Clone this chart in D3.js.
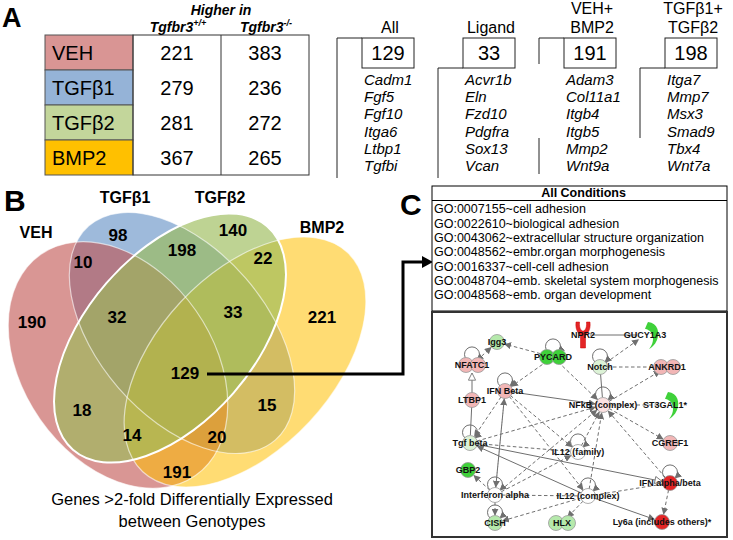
<!DOCTYPE html>
<html><head><meta charset="utf-8">
<script src="https://cdn.jsdelivr.net/npm/d3@7"></script>
<style>body{margin:0;background:#fff;} svg{font-family:Arial,"Liberation Sans",sans-serif;display:block;}</style>
</head><body><svg id="c" width="733" height="540"></svg>
<script>
// ---------------- DATA ----------------
const conditions = ["VEH", "TGFβ1", "TGFβ2", "BMP2"];
const higherWT = [221, 279, 281, 367];
const higherKO = [383, 236, 272, 265];

const geneGroups = [["All"], ["Ligand"], ["VEH+", "BMP2"], ["TGFβ1+", "TGFβ2"]];
const geneGroupCounts = [129, 33, 191, 198];
const genesAll = ["Cadm1", "Fgf5", "Fgf10", "Itga6", "Ltbp1", "Tgfbi"];
const genesLigand = ["Acvr1b", "Eln", "Fzd10", "Pdgfra", "Sox13", "Vcan"];
const genesVehBmp2 = ["Adam3", "Col11a1", "Itgb4", "Itgb5", "Mmp2", "Wnt9a"];
const genesTgfb = ["Itga7", "Mmp7", "Msx3", "Smad9", "Tbx4", "Wnt7a"];

const vennSets = ["VEH", "TGFβ1", "TGFβ2", "BMP2"];
const vennRegions = ["A", "B", "C", "D", "AB", "BC", "CD", "AC", "BD", "AD", "ABC", "BCD", "ACD", "ABD", "ABCD"];
const vennCounts = [190, 98, 140, 221, 10, 198, 22, 18, 15, 191, 32, 33, 14, 20, 129];
const vennCaption = ["Genes >2-fold Differentially Expressed", "between Genotypes"];

const goHeader = "All Conditions";
const goTerms = [
  "GO:0007155~cell adhesion",
  "GO:0022610~biological adhesion",
  "GO:0043062~extracellular structure organization",
  "GO:0048562~embr.organ morphogenesis",
  "GO:0016337~cell-cell adhesion",
  "GO:0048704~emb. skeletal system morphogenesis",
  "GO:0048568~emb. organ development"
];

const netNodes = ["Igg3", "NFATC1", "LTBP1", "Tgf beta", "GBP2", "Interferon alpha", "CISH", "HLX",
  "IL12 (complex)", "IL12 (family)", "IFN Beta", "PYCARD", "NPR2", "GUCY1A3", "Notch", "ANKRD1",
  "NFkB (complex)", "ST3GAL1*", "CGREF1", "IFN alpha/beta", "Ly6a (includes others)*"];
// expression: -2 strong down, -1 down, -0.5 slight down, 0 none, 0.5 slight up, 1 up, 2 strong up
const netExpression = [-1, 1, 1, -0.5, -2, 0, -1, -1, 0, 0, 1, -2, 2, -2, -0.5, 1, 0.5, -2, 1, 2, 2];
const netNodeShape = ["c", "d", "c", "c", "c", "c", "c", "d", "c", "c", "c", "d", "r", "m", "c", "d", "c", "m", "c", "c", "c"];
const netSelfLoops = ["NFATC1", "PYCARD", "Notch", "NFkB (complex)", "IFN Beta", "Tgf beta", "IL12 (family)",
  "IL12 (complex)", "Interferon alpha", "CISH", "IFN alpha/beta"];
// [source, target, line type, arrow]
const netEdges = [
  ["NFATC1", "Igg3", "dash", "arrow"],
  ["PYCARD", "Igg3", "dash", "arrow"],
  ["LTBP1", "NFATC1", "solid", "open"],
  ["LTBP1", "Tgf beta", "solid", "none"],
  ["PYCARD", "IFN Beta", "dash", "arrow"],
  ["PYCARD", "NFkB (complex)", "dash", "arrow"],
  ["Notch", "GUCY1A3", "dash", "arrow"],
  ["NPR2", "GUCY1A3", "solid", "none"],
  ["Notch", "ANKRD1", "dash", "none"],
  ["Notch", "NFkB (complex)", "solid", "none"],
  ["NFkB (complex)", "ANKRD1", "dash", "arrow"],
  ["ST3GAL1*", "NFkB (complex)", "dash", "none"],
  ["NFkB (complex)", "CGREF1", "dash", "arrow"],
  ["IFN Beta", "NFkB (complex)", "solid", "arrow"],
  ["IFN Beta", "Tgf beta", "dash", "arrow"],
  ["IFN Beta", "IL12 (family)", "dash", "arrow"],
  ["IFN Beta", "IL12 (complex)", "dash", "arrow"],
  ["IFN Beta", "Interferon alpha", "dash", "arrow"],
  ["Interferon alpha", "IFN Beta", "dash", "arrow"],
  ["Tgf beta", "NFkB (complex)", "dash", "arrow"],
  ["Tgf beta", "IL12 (family)", "dash", "none"],
  ["IL12 (complex)", "Tgf beta", "solid", "arrow"],
  ["IL12 (family)", "NFkB (complex)", "dash", "arrow"],
  ["IL12 (complex)", "NFkB (complex)", "dash", "arrow"],
  ["Interferon alpha", "NFkB (complex)", "dash", "arrow"],
  ["Interferon alpha", "IL12 (complex)", "dash", "none"],
  ["Interferon alpha", "IL12 (family)", "dash", "arrow"],
  ["Interferon alpha", "CISH", "dash", "arrow"],
  ["Interferon alpha", "GBP2", "dash", "arrow"],
  ["IL12 (complex)", "CISH", "dash", "arrow"],
  ["IL12 (complex)", "HLX", "dash", "arrow"],
  ["IL12 (complex)", "Ly6a (includes others)*", "solid", "arrow"],
  ["IFN alpha/beta", "NFkB (complex)", "dash", "arrow"],
  ["Tgf beta", "IFN alpha/beta", "solid", "open"],
  ["IFN alpha/beta", "Ly6a (includes others)*", "dash", "arrow"],
  ["IFN alpha/beta", "IL12 (complex)", "dash", "none"]
];

// ---------------- LAYOUT (design units) ----------------
const vennEllipses = [ // cx, cy, a, b, rotation (design units of the Venn panel)
  [118, 195, 135, 95, 55],
  [182, 163, 142, 84, 49],
  [170, 168, 148, 84, -49],
  [245, 192, 150, 88, -47]
];
const vennRegionPos = [[32,152],[118,65],[233,60],[322,147],[83,92],[182,80],[263,88],[82,240],[267,235],[177,302],[117,147],[233,142],[132,265],[217,267],[185,203]];
const vennSetLabelPos = [[36,62],[125,27],[220,27],[322,57]];
const netPos = [[65,30],[40,53],[40,88],[38,131],[36,158],[63,183],[63,211],[130,211],[156,184],[146,140],[73,79],[121,45],[151,23],[213,23],[168,55],[235,55],[171,93],[233,93],[238,131],[238,171],[230,210]];

// ---------------- DRAW ----------------
const svg = d3.select("#c");

// panel letters
svg.append("text").attr("x", 2).attr("y", 27).attr("font-size", 27).attr("font-weight", "bold").text("A");
svg.append("text").attr("x", 4).attr("y", 211).attr("font-size", 30).attr("font-weight", "bold").text("B");
svg.append("text").attr("x", 400).attr("y", 215).attr("font-size", 30).attr("font-weight", "bold").text("C");

// ---- Panel A table ----
const condColors = ["#d99594", "#95b3d7", "#c3d69b", "#ffc000"];
const rowY = d3.scaleBand().domain(conditions).range([35, 175]);
const colX = d3.scaleBand().domain(["label", "wt", "ko"]).range([45, 309]);
const tbl = svg.append("g");
conditions.forEach((c, i) => {
  tbl.append("rect").attr("x", colX("label")).attr("y", rowY(c)).attr("width", colX.bandwidth()).attr("height", rowY.bandwidth())
    .attr("fill", condColors[i]).attr("stroke", "#555").attr("stroke-width", 1);
  tbl.append("text").attr("x", colX("label") + 7).attr("y", rowY(c) + rowY.bandwidth() / 2 + 7)
    .attr("font-size", 20).text(c);
  [["wt", higherWT[i]], ["ko", higherKO[i]]].forEach(([k, v]) => {
    tbl.append("text").attr("x", colX(k) + colX.bandwidth() / 2).attr("y", rowY(c) + rowY.bandwidth() / 2 + 7)
      .attr("font-size", 20).attr("text-anchor", "middle").text(v);
  });
});
tbl.append("rect").attr("x", colX("wt")).attr("y", 35).attr("width", colX.bandwidth() * 2).attr("height", 140)
  .attr("fill", "none").attr("stroke", "#333");
tbl.append("line").attr("x1", colX("ko")).attr("x2", colX("ko")).attr("y1", 35).attr("y2", 175).attr("stroke", "#333");
tbl.append("text").attr("x", 221).attr("y", 15).attr("font-size", 14).attr("font-weight", "bold").attr("font-style", "italic")
  .attr("text-anchor", "middle").text("Higher in");
[["wt", "+/+"], ["ko", "-/-"]].forEach(([k, sup]) => {
  const t = tbl.append("text").attr("x", colX(k) + colX.bandwidth() / 2 + 1).attr("y", 32).attr("font-size", 14)
    .attr("font-weight", "bold").attr("font-style", "italic").attr("text-anchor", "middle");
  t.append("tspan").text("Tgfbr3");
  t.append("tspan").attr("font-size", 9).attr("dy", -6).text(sup);
});

// ---- Panel A gene lists ----
const groupX = d3.scaleBand().domain(d3.range(4)).range([337, 741]).paddingInner(0);
const geneLists = [genesAll, genesLigand, genesVehBmp2, genesTgfb];
const geneRowY = d3.scaleBand().domain(d3.range(6)).range([71, 175]);
const bracketStyle = [
  {h: "top", v: [[38, 178]]},
  {h: "bottom", v: [[68, 178]]},
  {h: "top", v: [[38, 64], [138, 174]]},
  {h: "bottom", v: [[68, 138]]}
];
const gl = svg.append("g");
geneGroupCounts.forEach((n, i) => {
  const x0 = groupX(i), bx = x0 + 25, bw = 52, by = 38, bh = 30;
  gl.append("rect").attr("x", bx).attr("y", by).attr("width", bw).attr("height", bh).attr("fill", "#fff").attr("stroke", "#222");
  gl.append("text").attr("x", bx + bw / 2).attr("y", by + bh / 2 + 7).attr("font-size", 20).attr("text-anchor", "middle").text(n);
  const hdr = geneGroups[i];
  hdr.forEach((h, j) => {
    gl.append("text").attr("x", bx + bw / 2 + 2).attr("y", 33 - (hdr.length - 1 - j) * 19).attr("font-size", 16)
      .attr("text-anchor", "middle").text(h);
  });
  const bs = bracketStyle[i];
  const hy = bs.h === "top" ? by : by + bh;
  gl.append("line").attr("x1", x0).attr("x2", bx).attr("y1", hy).attr("y2", hy).attr("stroke", "#222");
  bs.v.forEach(([y1, y2]) => gl.append("line").attr("x1", x0).attr("x2", x0).attr("y1", y1).attr("y2", y2).attr("stroke", "#222"));
  geneLists[i].forEach((g, j) => {
    gl.append("text").attr("x", bx + 2).attr("y", geneRowY(j) + geneRowY.bandwidth() / 2 + 5).attr("font-size", 15)
      .attr("font-style", "italic").text(g);
  });
});

// ---- Panel B Venn ----
const vx = d3.scaleLinear().domain([0, 374]).range([0, 374]);
const vy = d3.scaleLinear().domain([0, 374]).range([170, 544]);
const vennFill = ["#c0504d", "#4f81bd", "#9bbb59", "#ffc000"];
const vennOpacity = [0.6, 0.55, 0.65, 0.55];
const drawOrder = [1, 0, 3, 2];
const vg = svg.append("g");
drawOrder.forEach(i => {
  const [cx, cy, a, b, rot] = vennEllipses[i];
  vg.append("ellipse").attr("transform", `translate(${vx(cx)},${vy(cy)}) rotate(${rot})`)
    .attr("rx", vx(a) - vx(0)).attr("ry", vx(b) - vx(0))
    .attr("fill", vennFill[i]).attr("fill-opacity", vennOpacity[i]);
});
drawOrder.forEach(i => {
  const [cx, cy, a, b, rot] = vennEllipses[i];
  vg.append("ellipse").attr("transform", `translate(${vx(cx)},${vy(cy)}) rotate(${rot})`)
    .attr("rx", vx(a) - vx(0)).attr("ry", vx(b) - vx(0))
    .attr("fill", "none").attr("stroke", "#fff").attr("stroke-width", i === 2 ? 2 : 1.2).attr("stroke-opacity", i === 2 ? 1 : 0.6);
});
vennRegions.forEach((r, i) => {
  vg.append("text").attr("x", vx(vennRegionPos[i][0])).attr("y", vy(vennRegionPos[i][1]) + 6)
    .attr("font-size", 17).attr("font-weight", "bold").attr("text-anchor", "middle").text(vennCounts[i]);
});
vennSets.forEach((s, i) => {
  vg.append("text").attr("x", vx(vennSetLabelPos[i][0])).attr("y", vy(vennSetLabelPos[i][1]) + 6)
    .attr("font-size", 16).attr("font-weight", "bold").attr("text-anchor", "middle").text(s);
});
vennCaption.forEach((t, i) => {
  vg.append("text").attr("x", 192).attr("y", 505 + i * 22).attr("font-size", 16.5).attr("text-anchor", "middle").text(t);
});

// arrow from 129 to GO box
const allIdx = vennRegions.indexOf("ABCD");
const sx = vx(vennRegionPos[allIdx][0]) + 22, sy = vy(vennRegionPos[allIdx][1]) + 1;
const arrowPts = [[sx, sy], [403, sy], [403, 262], [424, 262]];
svg.append("path").attr("d", d3.line()(arrowPts)).attr("fill", "none").attr("stroke", "#000").attr("stroke-width", 3);
svg.append("path").attr("d", "M422,256 L433,262 L422,268 Z").attr("fill", "#000");

// ---- Panel C GO box ----
const goX0 = 432, goX1 = 727;
const goY = d3.scaleBand().domain(d3.range(goTerms.length)).range([201.5, 302]);
const gc = svg.append("g");
gc.append("rect").attr("x", goX0).attr("y", 186).attr("width", goX1 - goX0).attr("height", 125).attr("fill", "#fff").attr("stroke", "#000");
gc.append("line").attr("x1", goX0).attr("x2", goX1).attr("y1", 200.5).attr("y2", 200.5).attr("stroke", "#000");
gc.append("text").attr("x", (goX0 + goX1) / 2 + 4).attr("y", 197).attr("font-size", 12.5).attr("font-weight", "bold")
  .attr("text-anchor", "middle").text(goHeader);
goTerms.forEach((t, i) => {
  gc.append("text").attr("x", goX0 + 2).attr("y", goY(i) + goY.bandwidth() / 2 + 4.5).attr("font-size", 12.5).text(t);
});

// ---- Panel C network ----
const nx = d3.scaleLinear().domain([0, 295]).range([432, 727]);
const ny = d3.scaleLinear().domain([0, 225]).range([312, 537]);
const ng = svg.append("g");
ng.append("rect").attr("x", 432).attr("y", 312).attr("width", 295).attr("height", 225).attr("fill", "#fff")
  .attr("stroke", "#333").attr("stroke-width", 2);
const defs = svg.append("defs");
defs.append("marker").attr("id", "arr").attr("viewBox", "0 0 10 10").attr("refX", 9).attr("refY", 5)
  .attr("markerWidth", 7).attr("markerHeight", 7).attr("markerUnits", "userSpaceOnUse").attr("orient", "auto")
  .append("path").attr("d", "M0,0 L10,5 L0,10 Z").attr("fill", "#6f6f6f");
defs.append("marker").attr("id", "open").attr("viewBox", "0 0 10 10").attr("refX", 9).attr("refY", 5)
  .attr("markerWidth", 9).attr("markerHeight", 9).attr("markerUnits", "userSpaceOnUse").attr("orient", "auto")
  .append("path").attr("d", "M1,1 L9,5 L1,9 Z").attr("fill", "#fff").attr("stroke", "#777");

const pos = {};
netNodes.forEach((n, i) => pos[n] = [nx(netPos[i][0]), ny(netPos[i][1])]);
netEdges.forEach(([s, t, type, arrow]) => {
  const [x1, y1] = pos[s], [x2, y2] = pos[t];
  const dx = x2 - x1, dy = y2 - y1, L = Math.hypot(dx, dy);
  const r1 = 7, r2 = 8;
  const p = ng.append("line").attr("x1", x1 + dx / L * r1).attr("y1", y1 + dy / L * r1)
    .attr("x2", x2 - dx / L * r2).attr("y2", y2 - dy / L * r2)
    .attr("stroke", "#6f6f6f").attr("stroke-width", 1)
    .attr("stroke-dasharray", type === "dash" ? "3.5,2.5" : null);
  if (arrow === "arrow") p.attr("marker-end", "url(#arr)");
  if (arrow === "open") p.attr("marker-end", "url(#open)");
});
netSelfLoops.forEach(n => {
  const [x, y] = pos[n];
  ng.append("path").attr("d", `M${x - 5},${y - 5} A7.5 7.5 0 1 1 ${x + 5},${y - 5}`).attr("fill", "none")
    .attr("stroke", "#6f6f6f").attr("stroke-width", 1).attr("marker-end", "url(#arr)");
});
const exprColor = d3.scaleLinear().domain([-2, -1, -0.5, 0, 0.5, 1, 2])
  .range(["#3fd13a", "#b5e9ab", "#dcf2d6", "#ffffff", "#fbe1e1", "#f2b6b6", "#e32526"]);
netNodes.forEach((n, i) => {
  const [x, y] = pos[n];
  const col = exprColor(netExpression[i]);
  const sh = netNodeShape[i];
  const g = ng.append("g").attr("transform", `translate(${x},${y})`);
  if (sh === "c") {
    g.append("circle").attr("r", 7.5).attr("fill", col).attr("stroke", "#999").attr("stroke-width", 0.8);
  } else if (sh === "d") {
    [-6, 6].forEach(o => g.append("circle").attr("cx", o).attr("r", 7.5).attr("fill", col).attr("stroke", "#999").attr("stroke-width", 0.8));
  } else if (sh === "r") {
    g.append("path").attr("d", "M-7,-13 C-8,-4 -4,-2 -2.5,1 L-2.5,13 L2.5,13 L2.5,1 C4,-2 8,-4 7,-13 L3.5,-13 C4,-6 1.5,-4 0,-4 C-1.5,-4 -4,-6 -3.5,-13 Z")
      .attr("fill", col).attr("stroke", "#c00").attr("stroke-width", 0.5);
  } else if (sh === "m") {
    g.attr("transform", `translate(${x + 7},${y})`);
    g.append("path").attr("d", "M-4,-13 C6,-12 8,-2 5,5 C3,10 -1,13 -3,14 C1,9 2,4 0,-1 C-1,-4 -5,-6 -7,-6 C-6,-9 -5,-11 -4,-13 Z")
      .attr("fill", col);
  }
  ng.append("text").attr("x", x).attr("y", y + 3.2).attr("font-size", 9).attr("font-weight", "bold")
    .attr("text-anchor", "middle").attr("fill", "#111").text(n);
});
</script>
</body></html>
